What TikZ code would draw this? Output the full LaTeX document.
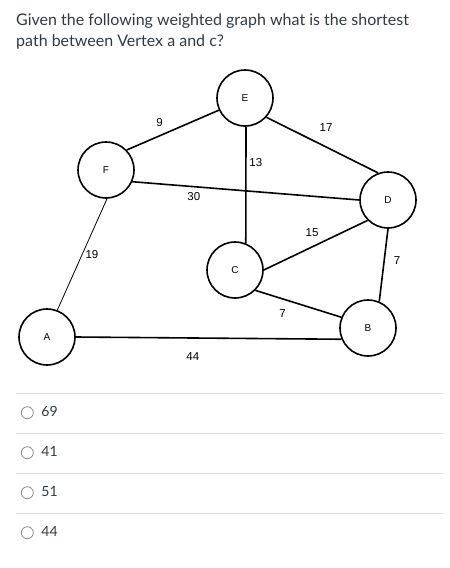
\documentclass[tikz,border=0pt]{standalone}
\usepackage{fontspec}
\setmainfont{Lato}
\newfontfamily\paintfont{Liberation Sans}
\definecolor{canvastext}{HTML}{2D3B45}
\definecolor{rulegray}{HTML}{DCDCDC}
\definecolor{radiogray}{HTML}{8A8A8A}

\begin{document}
\begin{tikzpicture}[x=1pt,y=-1pt,
  vertex/.style={draw,circle,line width=1.6pt,minimum size=56pt,inner sep=0pt,font=\paintfont\fontsize{10}{12}\selectfont},
  edge/.style={line width=1.6pt},
  weight/.style={font=\paintfont\fontsize{11.5}{13}\selectfont,inner sep=0pt},
  question/.style={font=\fontsize{16}{20}\selectfont,text=canvastext,anchor=base west,inner sep=0pt},
  answer/.style={font=\fontsize{14}{16}\selectfont,text=canvastext,anchor=base west,inner sep=0pt},
  radio/.style={draw=radiogray,circle,line width=0.8pt,minimum size=12pt,inner sep=0pt}]
\useasboundingbox (0,0) rectangle (450,568);
% question
\node[question] (q1) at (16,25) {Given the following weighted graph what is the shortest};
\node[question] (q2) at (16,46.5) {path between Vertex a and c?};
% vertices
\node[vertex] (E) at (245,98) {E};
\node[vertex] (F) at (106,170) {F};
\node[vertex] (D) at (388,200) {D};
\node[vertex] (C) at (235,270) {C};
\node[vertex] (B) at (368,328) {B};
\node[vertex] (A) at (47,337) {A};
% edges
\draw[edge] (E.205) -- (F.44);
\draw[edge] (E.-42) -- (D.110);
\draw[edge] (E.-88) -- (C.68);
\draw[edge] (F.-24) -- (D.180);
\draw[line width=0.8pt] (F.-88) -- (A.69);
\draw[edge] (C.east) -- (D.225);
\draw[edge] (C.-45) -- (B.158);
\draw[edge] (D.south) -- (B.67);
\draw[edge] (A.east) -- (B.203);
% weights
\node[weight] (w9) at (159.5,122.8) {9};
\node[weight] (w17) at (326,127.8) {17};
\node[weight] (w13) at (255.8,162.5) {13};
\node[weight] (w30) at (193.8,196.8) {30};
\node[weight] (w19) at (92,254.7) {19};
\node[weight] (w15) at (312,232.8) {15};
\node[weight] (w7db) at (397,260.7) {7};
\node[weight] (w7cb) at (282.5,313.7) {7};
\node[weight] (w44) at (192.8,356.3) {44};
% answers
\foreach \v [count=\i] in {69,41,51,44} {
  \draw[rulegray,line width=1pt] (16,353.3+40*\i) -- (442.7,353.3+40*\i);
  \node[radio] (r\i) at (27.3,372.7+40*\i) {};
  \node[answer] (opt\i) at (41.3,376.7+40*\i) {\v};
}
\end{tikzpicture}
\end{document}
